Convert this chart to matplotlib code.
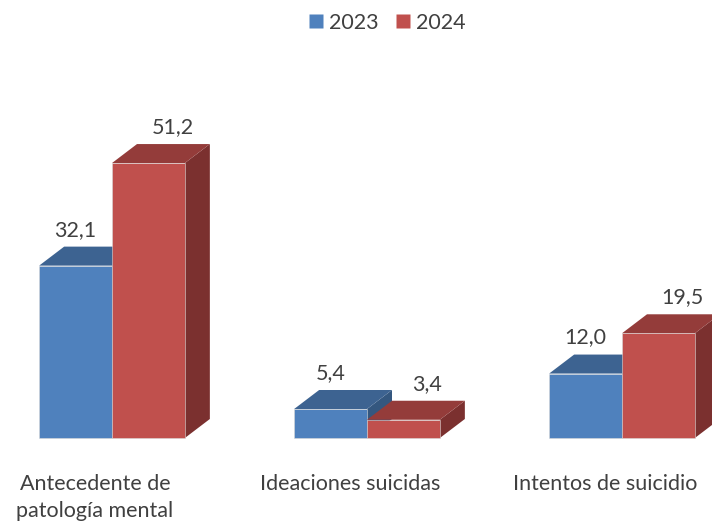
import matplotlib
matplotlib.use("Agg")
import matplotlib.pyplot as plt
from matplotlib.patches import Polygon
from matplotlib.lines import Line2D

categories = ["Antecedente de\npatología mental", "Ideaciones suicidas", "Intentos de suicidio"]
series_names = ["2023", "2024"]
values_2023 = [32.1, 5.4, 12.0]
values_2024 = [51.2, 3.4, 19.5]
labels_2023 = ["32,1", "5,4", "12,0"]
labels_2024 = ["51,2", "3,4", "19,5"]

W, H, DPI = 712, 522, 100
plt.rcParams['font.family'] = ['Lato', 'DejaVu Sans']
TXT = '#404040'
FS = 15.5

fig = plt.figure(figsize=(W / DPI, H / DPI), dpi=DPI)
# baseline at pixel 438 from top, 5.37 px per unit
px_per_unit_y = 5.37
ymax = 70
base_px = 438
ax_h_px = ymax * px_per_unit_y
ax = fig.add_axes([0, (H - base_px) / H, 1, ax_h_px / H])
group_step = 3.5
px_per_unit_x = 255 / group_step
x0_px = 112
ax.set_xlim(-x0_px / px_per_unit_x, (W - x0_px) / px_per_unit_x)
ax.set_ylim(0, ymax)
ax.axis('off')

dx = 25 / px_per_unit_x
dy = 19 / px_per_unit_y

styles = [
    dict(front='#4F81BD', top='#3D6391', side='#34577F', off=0),
    dict(front='#C0504D', top='#943C3A', side='#7B302F', off=24),
]
all_vals = [values_2023, values_2024]
all_labels = [labels_2023, labels_2024]

for g in range(len(categories)):
    c = g * group_step
    for s in range(2):
        v = all_vals[s][g]
        st = styles[s]
        x_l = c - 1 + s
        x_r = x_l + 1
        front = Polygon([(x_l, 0), (x_r, 0), (x_r, v), (x_l, v)], closed=True,
                        facecolor=st['front'], edgecolor='#d9d9d9', linewidth=0.4, clip_on=False)
        top = Polygon([(x_l, v), (x_r, v), (x_r + dx, v + dy), (x_l + dx, v + dy)], closed=True,
                      facecolor=st['top'], edgecolor='none', clip_on=False)
        side = Polygon([(x_r, 0), (x_r + dx, dy), (x_r + dx, v + dy), (x_r, v)], closed=True,
                       facecolor=st['side'], edgecolor='none', clip_on=False)
        for p in (side, top, front):
            ax.add_patch(p)
        ax.text(x_l + 0.5 + st['off'] / px_per_unit_x, v + dy + 17 / px_per_unit_y,
                all_labels[s][g], ha='center', va='center', fontsize=FS, color=TXT)
    ax.text(c - 17 / px_per_unit_x, (base_px - 474) / px_per_unit_y, categories[g],
            ha='center', va='top', fontsize=FS, color=TXT, linespacing=1.45, clip_on=False)

handles = [Line2D([], [], marker='s', linestyle='none', markersize=9.5,
                  markerfacecolor=styles[i]['front'], markeredgecolor='none') for i in range(2)]
fig.legend(handles, series_names, loc='center', bbox_to_anchor=(386.5 / W, 1 - 23 / H),
           ncol=2, frameon=False, fontsize=FS, labelcolor=TXT, handletextpad=0.2,
           columnspacing=0.7, handlelength=0.8, borderpad=0)

fig.savefig('out.png', dpi=DPI)
